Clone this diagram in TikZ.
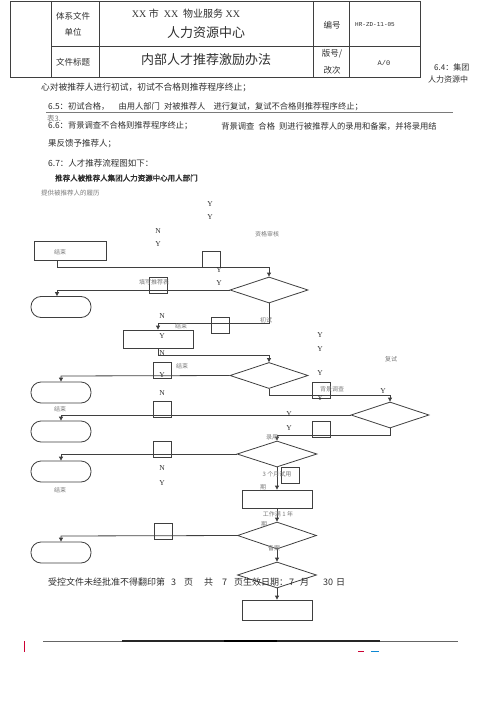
\documentclass[tikz,border=0pt]{standalone}
\usepackage{fontspec}
\setmainfont{Liberation Serif}
\setmonofont{Liberation Mono}
\newfontfamily\cjk{Noto Sans CJK SC}
\newfontfamily\cjkb{Noto Sans CJK SC}[FakeBold=2]
\usetikzlibrary{shapes.geometric,arrows.meta}
\definecolor{lc}{HTML}{3F3F3F}
\definecolor{tc}{HTML}{2E2E2E}
\definecolor{lg}{HTML}{7A7A7A}
\tikzset{
  tab/.style={draw=lc, line width=0.9pt},
  ln/.style={draw=lc, line width=0.8pt},
  arr/.style={ln, -{Triangle[length=4pt,width=4pt]}},
  sq/.style={draw=lc, line width=0.8pt, inner sep=0, minimum width=18pt, minimum height=16pt},
  rbox/.style={draw=lc, line width=0.8pt, inner sep=0, minimum width=70pt, minimum height=18pt},
  dia/.style={diamond, draw=lc, line width=0.8pt, inner sep=0, minimum width=78pt, minimum height=26pt},
  term/.style={rectangle, rounded corners=10pt, draw=lc, line width=0.8pt, inner sep=0, minimum width=60pt, minimum height=21pt},
  yn/.style={font=\fontsize{7.5}{8}\selectfont, text=tc, inner sep=0},
  sm/.style={font=\cjk\fontsize{6}{7}\selectfont, text=lg, inner sep=0},
  body/.style={font=\cjk\fontsize{8.5}{10}\selectfont, anchor=west, inner sep=0, text=tc},
  hd/.style={font=\cjk\fontsize{8.5}{9}\selectfont, text=tc, inner sep=0},
  big/.style={font=\cjk\fontsize{13}{14}\selectfont, text=tc, inner sep=0}
}
\begin{document}
\begin{tikzpicture}[x=1pt,y=-1pt]
\useasboundingbox (0,0) rectangle (500,708);
% ---------- header table ----------
\draw[tab] (10,1) rectangle (420,77);
\draw[tab] (51,1) -- (51,77) (99,1) -- (99,77) (313,1) -- (313,77) (349,1) -- (349,77);
\draw[tab] (51,46.5) -- (420,46.5);
\node[hd] (h1) at (73,16) {体系文件};
\node[hd] (h2) at (73,32) {单位};
\node[font=\fontsize{10}{11}\selectfont, text=tc, inner sep=0] (h3) at (186,14) {XX {\cjk 市}\ \ XX\ \ {\cjk 物业服务} XX};
\node[big] (h4) at (206,33) {人力资源中心};
\node[hd] (h5) at (332,25) {编号};
\node[font=\ttfamily\fontsize{6}{7}\selectfont, text=tc, inner sep=0] (h6) at (375,25) {HR-ZD-11-05};
\node[hd] (h7) at (73,62) {文件标题};
\node[big] (h8) at (206,60) {内部人才推荐激励办法};
\node[hd] (h9) at (332,54) {版号/};
\node[hd] (h10) at (332,70) {改次};
\node[font=\ttfamily\fontsize{7}{8}\selectfont, text=tc, inner sep=0] (h11) at (384,63) {A/0};
\node[hd, anchor=west, font=\cjk\fontsize{8}{9}\selectfont] (h12) at (434,67) {6.4：集团};
\node[hd, anchor=west, font=\cjk\fontsize{8}{9}\selectfont] (h13) at (428,79) {人力资源中};
% ---------- body text ----------
\node[body, font=\cjk\fontsize{8.75}{10}\selectfont] (t1) at (41,88) {心对被推荐人进行初试，初试不合格则推荐程序终止；};
\node[body, font=\cjk\fontsize{8.3}{10}\selectfont] (t2) at (48,107) {6.5：初试合格，\hspace{9pt}由用人部门\hspace{4pt}对被推荐人\hspace{8pt}进行复试，复试不合格则推荐程序终止；};
\draw[draw=lg, line width=1pt] (46,113) -- (453,113);
\node[body, font=\cjk\fontsize{7.5}{8}\selectfont, text=lg] (t3x) at (47,119) {表3.};
\node[body, font=\cjk\fontsize{8.3}{10}\selectfont] (t3a) at (48,126) {6.6：背景调查不合格则推荐程序终止；};
\node[body, font=\cjk\fontsize{8.3}{10}\selectfont, anchor=east] (t3b) at (437,126) {背景调查\hspace{4pt}合格\hspace{4pt}则进行被推荐人的录用和备案，并将录用结};
\node[body] (t4) at (48,144) {果反馈予推荐人；};
\node[body] (t5) at (48,163) {6.7：人才推荐流程图如下：};
\node[body, font=\cjkb\fontsize{7.5}{8}\selectfont] (t6) at (55,178) {推荐人被推荐人集团人力资源中心用人部门};
\node[body, font=\cjk\fontsize{6.5}{7}\selectfont, text=lg] (t7) at (41,193) {提供被推荐人的履历};
% ---------- flow shapes ----------
\node[rbox, minimum width=72pt, minimum height=19pt] (e1) at (70,250.5) {};
\node[sq] (s1) at (211,259) {};
\node[dia] (d1) at (269,290) {};
\node[sq] (s2) at (158,285) {};
\node[term] (m1) at (61,307) {};
\node[sq] (s3) at (220,325) {};
\node[rbox] (r2) at (158,339) {};
\node[dia] (d2) at (269,375.5) {};
\node[sq] (s4) at (162.5,370.5) {};
\node[term] (m2) at (61,392.5) {};
\node[sq] (s5) at (321,390) {};
\node[dia] (d3) at (390,415) {};
\node[sq] (s6) at (162.5,409.5) {};
\node[term] (m3) at (61,431.5) {};
\node[sq] (s7) at (321,429) {};
\node[dia, minimum width=80pt] (d4) at (277,454) {};
\node[sq] (s8) at (162.5,449) {};
\node[term] (m4) at (61,471.5) {};
\node[sq] (s9) at (290.5,475) {};
\node[rbox] (r3) at (277,499) {};
\node[dia, minimum width=79pt, minimum height=27pt] (d5) at (277,535.5) {};
\node[sq] (s10) at (163,531) {};
\node[term] (m5) at (61,552.5) {};
\node[dia, minimum width=79pt] (d6) at (277,575) {};
\node[rbox, minimum height=20pt] (r4) at (277,610) {};
% ---------- connector corners ----------
\coordinate (a0) at (57,260);
\coordinate (a1) at (57,267);
\coordinate (a2) at (57,290);
\coordinate (b1) at (269,323);
\coordinate (b2) at (158,323);
\coordinate (c1) at (158,355);
\coordinate (c2) at (269,355);
\coordinate (f1) at (61,376);
\coordinate (g1) at (269,395);
\coordinate (g2) at (390,395);
\coordinate (k1) at (61,415);
\coordinate (p1) at (390,435);
\coordinate (p2) at (277,435);
\coordinate (q1) at (61,454);
\coordinate (u1) at (61,536);
% ---------- connectors ----------
\draw[ln] (a0) -- (a1);
\draw[arr] (a1) -| (d1.north);
\draw[arr] (d1.west) -- (a2) -- (a2 |- m1.north);
\draw[arr] (d1.south) -- (b1) -- (b2) -- (r2.north);
\draw[arr] (r2.south) -- (c1) -- (c2) -- (d2.north);
\draw[arr] (d2.west) -- (f1) -- (f1 |- m2.north);
\draw[arr] (d2.south) -- (g1) -- (g2) -- (d3.north);
\draw[arr] (d3.west) -- (k1) -- (k1 |- m3.north);
\draw[arr] (d3.south) -- (p1) -- (p2) -- (d4.north);
\draw[arr] (d4.west) -- (q1) -- (q1 |- m4.north);
\draw[arr] (d4.south) -- (r3.north);
\draw[arr] (r3.south) -- (d5.north);
\draw[arr] (d5.west) -- (u1) -- (u1 |- m5.north);
\draw[arr] (d5.south) -- (d6.north);
\draw[arr] (d6.south) -- (r4.north);
% ---------- Y / N labels ----------
\node[yn] (y1) at (210,204) {Y};
\node[yn] (y2) at (210,217) {Y};
\node[yn] (n1) at (158,231) {N};
\node[yn] (y3) at (158,244) {Y};
\node[yn] (y4) at (219,270) {Y};
\node[yn] (y5) at (219,283) {Y};
\node[yn] (n2) at (162,316) {N};
\node[yn] (y6) at (162,336) {Y};
\node[yn] (n3) at (162,353) {N};
\node[yn] (y7) at (162,375) {Y};
\node[yn] (n4) at (162,393) {N};
\node[yn] (y8) at (320,335) {Y};
\node[yn] (y9) at (320,349) {Y};
\node[yn] (y10) at (320,373) {Y};
\node[yn] (y11) at (320,398) {Y};
\node[yn] (y12) at (383,391) {Y};
\node[yn] (y13) at (289,414) {Y};
\node[yn] (y14) at (289,428) {Y};
\node[yn] (n5) at (162,468) {N};
\node[yn] (y15) at (162,483) {Y};
% ---------- small labels ----------
\node[sm] (l1) at (267,234) {资格审核};
\node[sm] (l2) at (60,252) {结束};
\node[sm] (l3) at (154,282) {填写推荐表};
\node[sm] (l4) at (266,320) {初试};
\node[sm] (l5) at (181,326) {结束};
\node[sm] (l6) at (182,366) {结束};
\node[sm] (l7) at (332,389) {背景调查};
\node[sm] (l8) at (391,359) {复试};
\node[sm] (l9) at (60,409) {结束};
\node[sm] (l10) at (272,437) {录用};
\node[sm] (l11) at (60,490) {结束};
\node[sm] (l12) at (277,474) {3 个月试用};
\node[sm] (l13) at (263,487) {期};
\node[sm] (l14) at (278,514) {工作满 1 年};
\node[sm] (l15) at (264,524) {期};
\node[sm] (l16) at (274,548) {备案};
% ---------- footer ----------
\node[body, font=\cjk\fontsize{9}{10}\selectfont] (f1t) at (48,582) {受控文件未经批准不得翻印第};
\node[body, font=\cjk\fontsize{9}{10}\selectfont] (f2t) at (171,582) {3};
\node[body, font=\cjk\fontsize{9}{10}\selectfont] (f3t) at (184,582) {页};
\node[body, font=\cjk\fontsize{9}{10}\selectfont] (f4t) at (204,582) {共};
\node[body, font=\cjk\fontsize{9}{10}\selectfont] (f5t) at (222,582) {7};
\node[body, font=\cjk\fontsize{9}{10}\selectfont] (f6t) at (234,582) {页生效日期：};
\node[body, font=\cjk\fontsize{9}{10}\selectfont] (f7t) at (289,582) {7};
\node[body, font=\cjk\fontsize{9}{10}\selectfont] (f8t) at (300,582) {月};
\node[body, font=\cjk\fontsize{9}{10}\selectfont] (f9t) at (323,582) {30};
\node[body, font=\cjk\fontsize{9}{10}\selectfont] (f10t) at (336,582) {日};
\draw[draw=lc!80, line width=0.9pt] (43,641) -- (458,641);
\draw[draw=black!85, line width=1.2pt] (122,641) -- (380,641);
\draw[draw=black, line width=1.4pt] (224,641) -- (277,641);
\draw[draw=purple!80!red, line width=0.7pt] (24,641) -- (24,652);
\draw[draw=purple!80!red, line width=0.8pt] (358,651) -- (364,651);
\draw[draw=cyan!70!blue, line width=0.8pt] (371,651) -- (379,651);
\end{tikzpicture}
\end{document}
